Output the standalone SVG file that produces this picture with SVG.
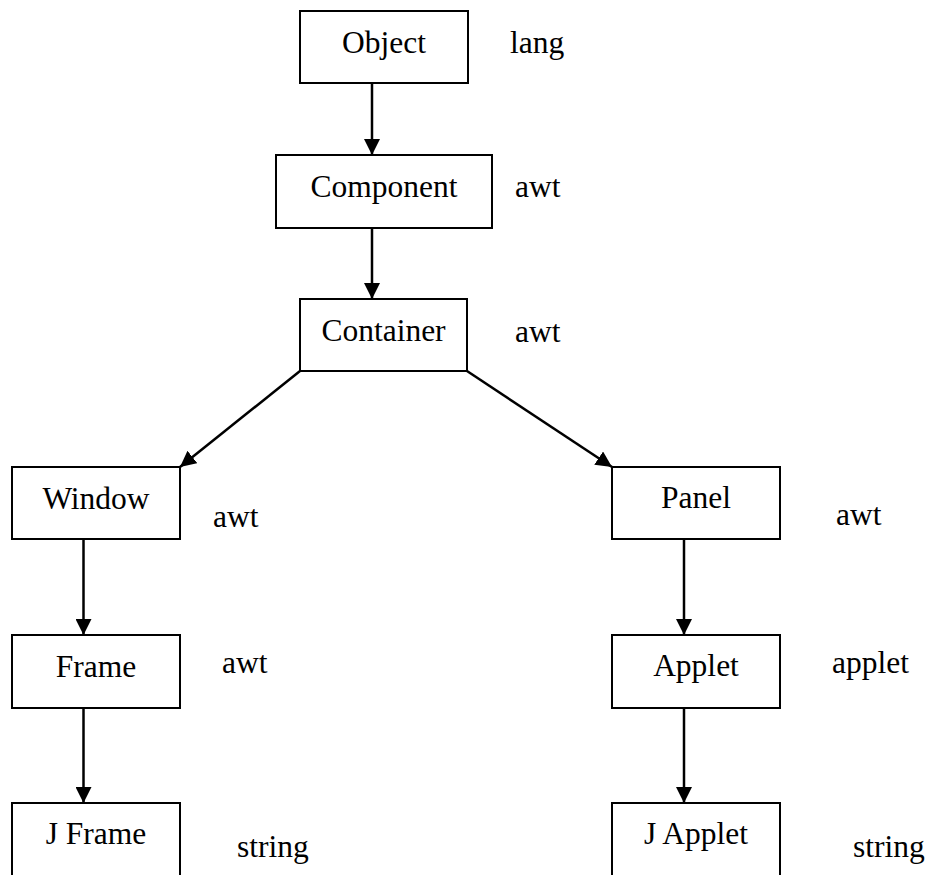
<svg xmlns="http://www.w3.org/2000/svg" width="928" height="875" viewBox="0 0 928 875">
<style>
  .box { fill: #ffffff; stroke: #000000; stroke-width: 2; }
  .lbl { font-family: "Liberation Serif", "Times New Roman", serif; font-size: 31.5px; fill: #000000; }
  .c { text-anchor: middle; }
  .edge { stroke: #000000; stroke-width: 2.5; fill: none; marker-end: url(#arrow); }
</style>
<defs>
  <marker id="arrow" viewBox="0 0 10 10" refX="10" refY="5" markerUnits="userSpaceOnUse" markerWidth="16" markerHeight="16" orient="auto">
    <path d="M0,0 L10,5 L0,10 z" fill="#000000"/>
  </marker>
</defs>
<rect width="928" height="875" fill="#ffffff"/>
<g id="connectors">
  <line class="edge" x1="372" y1="83" x2="372" y2="155"/>
  <line class="edge" x1="372" y1="228" x2="372" y2="299"/>
  <line class="edge" x1="300" y1="371" x2="180" y2="467"/>
  <line class="edge" x1="467" y1="371" x2="612" y2="467"/>
  <line class="edge" x1="83.5" y1="539" x2="83.5" y2="635"/>
  <line class="edge" x1="83.5" y1="708" x2="83.5" y2="803"/>
  <line class="edge" x1="684" y1="539" x2="684" y2="635"/>
  <line class="edge" x1="684" y1="708" x2="684" y2="803"/>
</g>
<g id="object">
  <rect class="box" x="300" y="11" width="168" height="72"/>
  <text class="lbl c" x="384" y="53">Object</text>
  <text class="lbl" x="510" y="53">lang</text>
</g>
<g id="component">
  <rect class="box" x="276" y="155" width="216" height="73"/>
  <text class="lbl c" x="384" y="197">Component</text>
  <text class="lbl" x="515" y="197">awt</text>
</g>
<g id="container">
  <rect class="box" x="300" y="299" width="167" height="72"/>
  <text class="lbl c" x="383.5" y="341">Container</text>
  <text class="lbl" x="515" y="342">awt</text>
</g>
<g id="window">
  <rect class="box" x="12" y="467" width="168" height="72"/>
  <text class="lbl c" x="96" y="509">Window</text>
  <text class="lbl" x="213" y="527">awt</text>
</g>
<g id="panel">
  <rect class="box" x="612" y="467" width="168" height="72"/>
  <text class="lbl c" x="696" y="508">Panel</text>
  <text class="lbl" x="836" y="525">awt</text>
</g>
<g id="frame">
  <rect class="box" x="12" y="635" width="168" height="73"/>
  <text class="lbl c" x="96" y="677">Frame</text>
  <text class="lbl" x="222" y="673">awt</text>
</g>
<g id="applet">
  <rect class="box" x="612" y="635" width="168" height="73"/>
  <text class="lbl c" x="696" y="676">Applet</text>
  <text class="lbl" x="832" y="673">applet</text>
</g>
<g id="jframe">
  <rect class="box" x="12" y="803" width="168" height="90"/>
  <text class="lbl c" x="96" y="844">J Frame</text>
  <text class="lbl" x="237" y="857">string</text>
</g>
<g id="japplet">
  <rect class="box" x="612" y="803" width="168" height="90"/>
  <text class="lbl c" x="696" y="844">J Applet</text>
  <text class="lbl" x="853" y="857">string</text>
</g>
</svg>
